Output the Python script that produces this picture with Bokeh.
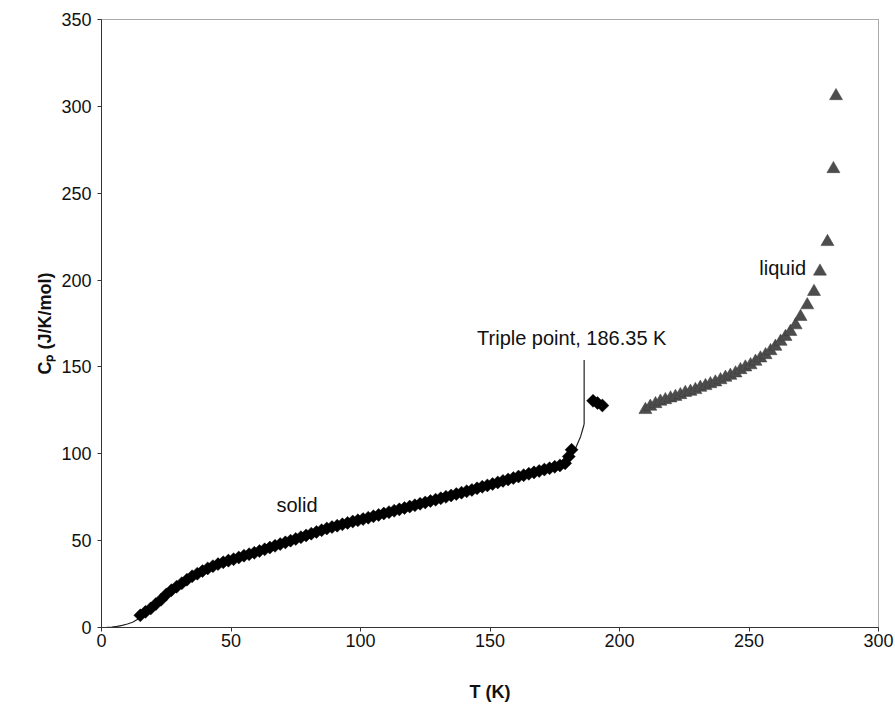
from bokeh.plotting import figure
from bokeh.models import Range1d, Label, FixedTicker
from bokeh.embed import file_html
from bokeh.resources import INLINE
import math

# ---- data ----
solid_T = [15, 17, 19, 21, 23, 25, 27, 29, 31, 33, 35, 37, 39, 41, 43, 45, 47, 49,
           51, 53, 55, 57, 59, 61, 63, 65, 67, 69, 71, 73, 75, 77, 79, 81, 83, 85,
           87, 89, 91, 93, 95, 97, 99, 101, 103, 105, 107, 109, 111, 113, 115, 117,
           119, 121, 123, 125, 127, 129, 131, 133, 135, 137, 139, 141, 143, 145,
           147, 149, 151, 153, 155, 157, 159, 161, 163, 165, 167, 169, 171, 173,
           175, 177, 179, 180.4, 181.5, 189.8, 191.5, 193.4]
solid_Cp = [7.0, 9.0, 11.0, 13.5, 16.0, 19.0, 21.5, 23.5, 25.5, 27.5, 29.5, 31.0,
            32.5, 34.0, 35.3, 36.5, 37.5, 38.5, 39.3, 40.3, 41.3, 42.2, 43.0, 44.0,
            45.0, 46.0, 47.0, 48.0, 49.0, 50.0, 51.0, 52.0, 53.0, 54.0, 55.0, 56.0,
            57.0, 57.8, 58.6, 59.4, 60.2, 61.0, 61.7, 62.4, 63.2, 64.0, 64.8, 65.6,
            66.4, 67.2, 68.0, 68.8, 69.6, 70.4, 71.2, 72.0, 72.8, 73.6, 74.4, 75.2,
            76.0, 76.8, 77.6, 78.4, 79.2, 80.1, 81.0, 81.8, 82.6, 83.5, 84.4, 85.2,
            86.0, 86.9, 87.7, 88.5, 89.3, 90.1, 90.9, 91.7, 92.5, 93.3, 94.5, 98.4,
            102.3, 130.5, 129.2, 127.8]

liquid_T = [210.0, 211.9, 213.9, 215.8, 217.7, 219.7, 221.6, 223.5, 225.4, 227.4,
            229.3, 231.2, 233.2, 235.1, 237.0, 239.0, 240.9, 242.8, 244.8, 246.7,
            248.6, 250.6, 252.5, 254.4, 256.4, 258.3, 260.2, 262.2, 264.1, 266.0,
            268.0, 269.9, 272.5, 275.1, 277.4, 280.3, 282.6, 283.6]
liquid_Cp = [125.3, 127.2, 128.7, 130.1, 131.0, 132.0, 132.9, 133.9, 135.2, 135.8,
             136.8, 138.1, 139.1, 140.2, 141.2, 142.5, 143.9, 145.0, 146.4, 148.3,
             149.8, 151.1, 153.1, 155.0, 156.9, 159.2, 161.7, 164.6, 167.4, 170.3,
             174.1, 178.9, 185.6, 193.3, 205.0, 222.0, 264.0, 306.0]

fit_T = [0, 2, 4, 6, 8, 10, 12, 14, 16, 20, 25, 30, 40, 50, 60, 80, 100, 120,
         140, 160, 175, 180, 183, 185, 186.35]
fit_Cp = [0, 0.05, 0.2, 0.6, 1.2, 2.0, 3.0, 4.7, 8.0, 12.0, 19.0, 24.5, 33.5,
          38.7, 43.5, 53.5, 62.0, 70.0, 78.0, 86.5, 92.5, 96.0, 103.0, 110.0, 117.0]

triple_T = [186.35, 186.35]
leader_Cp = [117.0, 154.0]

x_ticks = [0, 50, 100, 150, 200, 250, 300]
y_ticks = [0, 50, 100, 150, 200, 250, 300, 350]

p = figure(width=895, height=704, output_backend="svg", toolbar_location=None,
           x_range=Range1d(0, 300), y_range=Range1d(0, 350))
p.min_border_left = 101
p.min_border_right = 17
p.min_border_top = 19
p.min_border_bottom = 76

p.grid.visible = False
p.background_fill_color = "white"
p.border_fill_color = "white"
p.outline_line_color = "#555555"
p.outline_line_dash = "1 1"
p.outline_line_width = 1

for ax in (p.xaxis[0], p.yaxis[0]):
    ax.axis_line_color = "#333333"
    ax.major_tick_line_color = "#333333"
    ax.major_tick_in = 0
    ax.major_tick_out = 4
    ax.minor_tick_line_color = None
    ax.major_label_text_font = "Liberation Sans"
    ax.major_label_text_font_size = "18px"
    ax.major_label_text_color = "#111111"
    ax.axis_label_text_font = "Liberation Sans"
    ax.axis_label_text_font_style = "bold"
    ax.axis_label_text_font_size = "18px"
    ax.axis_label_text_color = "#111111"

p.xaxis.ticker = FixedTicker(ticks=x_ticks)
p.yaxis.ticker = FixedTicker(ticks=y_ticks)
p.xaxis.axis_label = "T (K)"
p.yaxis.axis_label = "Cₚ (J/K/mol)"
p.xaxis.major_label_standoff = 2
p.yaxis.major_label_standoff = 6
p.xaxis.axis_label_standoff = 32
p.yaxis.axis_label_standoff = 3

p.line(fit_T, fit_Cp, line_color="#222222", line_width=1.2)
p.line(triple_T, leader_Cp, line_color="#222222", line_width=1.2)

p.scatter(solid_T, solid_Cp, marker="square", angle=math.pi / 4, size=9.2,
          fill_color="black", line_color="black", line_width=0.5)
p.scatter(liquid_T, liquid_Cp, marker="triangle", size=13,
          fill_color="#4d4d4d", line_color="#3a3a3a", line_width=0.5)

font = "Liberation Sans"
p.add_layout(Label(x=145, y=166.5, text="Triple point, 186.35 K", text_font=font,
                   text_font_size="20px", text_baseline="middle", text_align="left",
                   text_color="#111111"))
p.add_layout(Label(x=75.5, y=70.5, text="solid", text_font=font,
                   text_font_size="20px", text_baseline="middle", text_align="center",
                   text_color="#111111"))
p.add_layout(Label(x=263, y=207, text="liquid", text_font=font,
                   text_font_size="20px", text_baseline="middle", text_align="center",
                   text_color="#111111"))

open("out.html", "w").write(file_html(p, INLINE))
